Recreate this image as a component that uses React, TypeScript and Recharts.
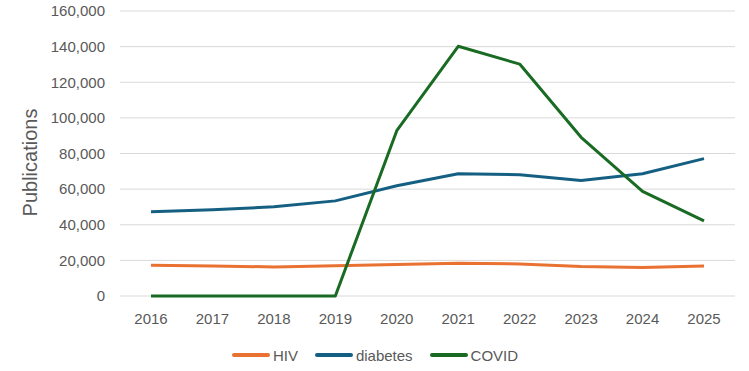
import { LineChart, Line, XAxis, YAxis, CartesianGrid, Legend } from 'recharts'

const years = ['2016', '2017', '2018', '2019', '2020', '2021', '2022', '2023', '2024', '2025']
const hiv = [17300, 16900, 16300, 17000, 17700, 18400, 18000, 16500, 16000, 16900]
const diabetes = [47300, 48400, 50100, 53400, 61900, 68600, 68100, 64900, 68600, 77100]
const covid = [0, 0, 0, 0, 92800, 140200, 130200, 89100, 58700, 42200]
const yTicks = [0, 20000, 40000, 60000, 80000, 100000, 120000, 140000, 160000]
const seriesOrder = ['HIV', 'diabetes', 'COVID']

const data = years.map((year, i) => ({ year, HIV: hiv[i], diabetes: diabetes[i], COVID: covid[i] }))

const FONT = '"Liberation Sans", Arial, sans-serif'
const TEXT = '#595959'

function YLabel({ viewBox }: any) {
  const x = viewBox.x + 36.5
  const y = viewBox.y + viewBox.height / 2 + 9
  return (
    <text x={x} y={y} transform={`rotate(-90 ${x} ${y})`} textAnchor="middle" fill={TEXT} fontSize={20} fontFamily={FONT}>
      Publications
    </text>
  )
}

function LegendRow({ payload }: any) {
  const items = [...(payload || [])].sort((a: any, b: any) => seriesOrder.indexOf(a.value) - seriesOrder.indexOf(b.value))
  return (
    <div style={{ height: 35, paddingTop: 3, paddingLeft: 1, boxSizing: 'border-box', display: 'flex', justifyContent: 'center', alignItems: 'center', gap: 17 }}>
      {items.map((p: any) => (
        <div key={p.value} style={{ display: 'flex', alignItems: 'center', gap: 3 }}>
          <span style={{ display: 'inline-block', width: 38, height: 4, borderRadius: 2, background: p.color }} />
          <span style={{ color: TEXT, fontSize: 15, fontFamily: FONT }}>{p.value}</span>
        </div>
      ))}
    </div>
  )
}

export default function App() {
  return (
    <div style={{ position: 'absolute', left: 0, top: 0 }}>
      <LineChart width={749} height={371} data={data} margin={{ top: 11, right: 14, left: 0, bottom: 0 }}>
        <CartesianGrid vertical={false} stroke="#D9D9D9" />
        <XAxis
          dataKey="year"
          axisLine={false}
          tickLine={false}
          tickSize={0}
          tickMargin={17}
          height={40}
          padding={{ left: 31, right: 31 }}
          tick={{ fill: TEXT, fontSize: 15, fontFamily: FONT }}
          interval={0}
        />
        <YAxis
          width={120}
          domain={[0, 160000]}
          ticks={yTicks}
          axisLine={false}
          tickLine={false}
          tickSize={0}
          tickMargin={15}
          tickFormatter={(v: number) => v.toLocaleString('en-US')}
          tick={{ fill: TEXT, fontSize: 15, fontFamily: FONT }}
          label={<YLabel />}
        />
        <Legend verticalAlign="bottom" content={<LegendRow />} wrapperStyle={{ left: 0, width: 749 }} />
        <Line type="linear" dataKey="HIV" stroke="#E97132" strokeWidth={3} dot={false} isAnimationActive={false} strokeLinejoin="round" />
        <Line type="linear" dataKey="diabetes" stroke="#156082" strokeWidth={3} dot={false} isAnimationActive={false} strokeLinejoin="round" />
        <Line type="linear" dataKey="COVID" stroke="#196B24" strokeWidth={3} dot={false} isAnimationActive={false} strokeLinejoin="round" />
      </LineChart>
    </div>
  )
}
